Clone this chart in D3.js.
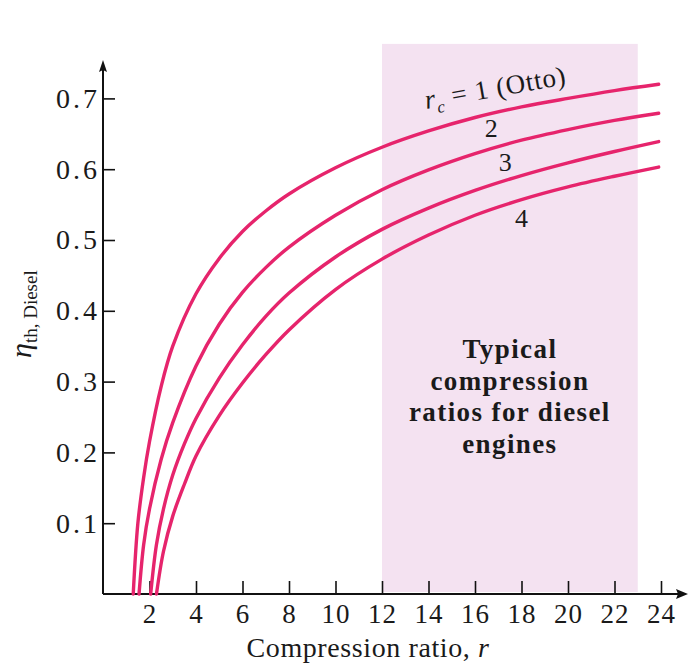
<!DOCTYPE html>
<html>
<head>
<meta charset="utf-8">
<script src="https://cdn.jsdelivr.net/npm/d3@7"></script>
<style>
  body { margin: 0; background: #fff; }
  text { font-family: "Liberation Serif", "DejaVu Serif", serif; fill: #1a1a1a; }
</style>
</head>
<body>
<div id="container"></div>
<script>
// values
const rOtto = [1.3, 1.5, 1.75, 2, 2.5, 3, 4, 5, 6, 7, 8, 10, 12, 14, 16, 18, 20, 22, 23.9];
const etaOtto = [0, 0.10, 0.165, 0.215, 0.293, 0.35, 0.424, 0.474, 0.512, 0.541, 0.565, 0.602, 0.631, 0.654, 0.673, 0.688, 0.700, 0.711, 0.720];

const rRc2 = [1.55, 1.75, 2, 2.5, 3, 4, 5, 6, 7, 8, 10, 12, 14, 16, 18, 20, 22, 23.9];
const etaRc2 = [0, 0.07, 0.12, 0.19, 0.242, 0.322, 0.381, 0.426, 0.461, 0.49, 0.535, 0.571, 0.599, 0.622, 0.641, 0.656, 0.669, 0.679];

const rRc3 = [2.05, 2.3, 2.6, 3, 3.5, 4, 5, 6, 7, 8, 10, 12, 14, 16, 18, 20, 22, 23.9];
const etaRc3 = [0, 0.07, 0.12, 0.168, 0.212, 0.248, 0.305, 0.352, 0.392, 0.425, 0.476, 0.515, 0.545, 0.570, 0.591, 0.609, 0.625, 0.639];

const rRc4 = [2.3, 2.6, 3, 3.5, 4, 5, 6, 7, 8, 10, 12, 14, 16, 18, 20, 22, 23.9];
const etaRc4 = [0, 0.06, 0.11, 0.155, 0.195, 0.252, 0.298, 0.338, 0.373, 0.43, 0.473, 0.507, 0.535, 0.557, 0.575, 0.59, 0.603];

const xTicks = [2, 4, 6, 8, 10, 12, 14, 16, 18, 20, 22, 24];
const yTicks = [0.1, 0.2, 0.3, 0.4, 0.5, 0.6, 0.7];
const typicalRange = [12, 23];
const typicalTop = 0.777;
const typicalText = ['Typical', 'compression', 'ratios for diesel', 'engines'];

const width = 688, height = 668;
const x0 = 103, y0 = 594;

const xScale = d3.scaleLinear().domain([0, 24]).range([x0, x0 + 24 * 23.25]);
const yScale = d3.scaleLinear().domain([0, 0.7]).range([y0, y0 - 0.7 * 708]);

const svg = d3.select('#container')
    .append('svg')
    .attr('width', width)
    .attr('height', height);

// shaded band
svg.append('rect')
    .attr('x', xScale(typicalRange[0]))
    .attr('y', yScale(typicalTop))
    .attr('width', xScale(typicalRange[1]) - xScale(typicalRange[0]))
    .attr('height', yScale(0) - yScale(typicalTop) - 2)
    .attr('fill', '#f4e2f1');

// axes
const xAxis = svg.append('g')
    .attr('transform', `translate(0,${y0})`)
    .call(d3.axisBottom(xScale).tickValues(xTicks).tickSizeInner(-13).tickSizeOuter(0).tickPadding(9));
const yAxis = svg.append('g')
    .attr('transform', `translate(${x0},0)`)
    .call(d3.axisLeft(yScale).tickValues(yTicks).tickSizeInner(-12).tickSizeOuter(0).tickPadding(3).tickFormat(d3.format('.1f')));

xAxis.select('.domain').remove();
yAxis.select('.domain').remove();
svg.selectAll('.tick line').attr('stroke', '#111').attr('stroke-width', 1.6);
xAxis.selectAll('.tick text')
    .attr('font-size', 27).attr('font-family', 'Liberation Serif').attr('fill', '#1a1a1a')
    .attr('letter-spacing', 1)
    .attr('dy', '0.75em');
yAxis.selectAll('.tick text')
    .attr('font-size', 28).attr('font-family', 'Liberation Serif').attr('fill', '#1a1a1a')
    .attr('letter-spacing', 3);

// axis lines with arrows
svg.append('line').attr('x1', x0).attr('y1', y0).attr('x2', 682).attr('y2', y0)
    .attr('stroke', '#111').attr('stroke-width', 2);
svg.append('path').attr('d', `M688,${y0} L676,${y0 - 5} L678,${y0} L676,${y0 + 5} Z`).attr('fill', '#111');
svg.append('line').attr('x1', x0).attr('y1', y0).attr('x2', x0).attr('y2', 66)
    .attr('stroke', '#111').attr('stroke-width', 2);
svg.append('path').attr('d', `M${x0},60 L${x0 - 4},72 L${x0},70 L${x0 + 4},72 Z`).attr('fill', '#111');

// curves
const line = d3.line()
    .x(d => xScale(d[0]))
    .y(d => yScale(d[1]))
    .curve(d3.curveCatmullRom.alpha(0.5));

const series = [
    d3.zip(rOtto, etaOtto),
    d3.zip(rRc2, etaRc2),
    d3.zip(rRc3, etaRc3),
    d3.zip(rRc4, etaRc4)
];
svg.selectAll('.curve')
    .data(series)
    .enter()
    .append('path')
    .attr('class', 'curve')
    .attr('fill', 'none')
    .attr('stroke', '#e6246c')
    .attr('stroke-width', 3.4)
    .attr('stroke-linecap', 'round')
    .attr('d', line);

// curve labels
const otto = svg.append('text')
    .attr('transform', `translate(${xScale(13.9)},${yScale(0.685)}) rotate(-10)`)
    .attr('font-size', 27)
    .attr('letter-spacing', 0.8);
otto.append('tspan').attr('font-style', 'italic').text('r');
otto.append('tspan').attr('font-size', 17).attr('font-style', 'italic').attr('dy', 6).text('c');
otto.append('tspan').attr('dy', -6).text(' = 1 (Otto)');

[['2', 16.7, 0.645], ['3', 17.3, 0.598], ['4', 18.0, 0.518]].forEach(l => {
    svg.append('text')
        .attr('x', xScale(l[1]))
        .attr('y', yScale(l[2]))
        .attr('text-anchor', 'middle')
        .attr('font-size', 26)
        .text(l[0]);
});

// band text
const midX = (xScale(typicalRange[0]) + xScale(typicalRange[1])) / 2;
svg.selectAll('.band-text')
    .data(typicalText)
    .enter()
    .append('text')
    .attr('class', 'band-text')
    .attr('x', midX)
    .attr('y', (d, i) => 358 + i * 31.5)
    .attr('text-anchor', 'middle')
    .attr('font-size', 27)
    .attr('font-weight', 'bold')
    .attr('letter-spacing', 1.4)
    .text(d => d);

// axis titles
const xt = svg.append('text')
    .attr('x', 368)
    .attr('y', 657)
    .attr('text-anchor', 'middle')
    .attr('font-size', 28)
    .attr('letter-spacing', 0.6);
xt.append('tspan').text('Compression ratio,  ');
xt.append('tspan').attr('font-style', 'italic').text('r');

const yt = svg.append('text')
    .attr('transform', 'translate(31,358) rotate(-90)');
yt.append('tspan').attr('font-size', 30).attr('font-style', 'italic').text('η');
yt.append('tspan').attr('font-size', 19).attr('dy', 6).text('th, Diesel');
</script>
</body>
</html>
